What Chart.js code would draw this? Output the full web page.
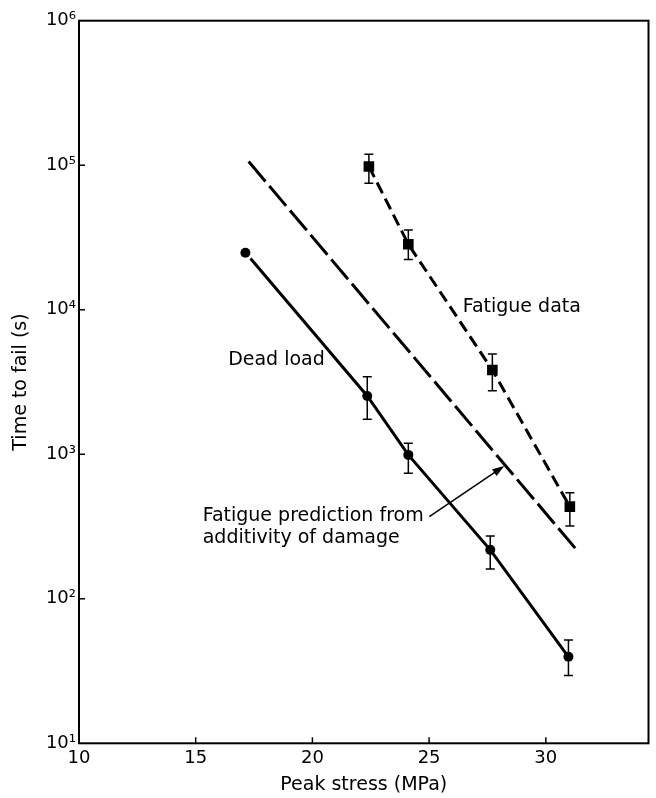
<!DOCTYPE html>
<html><head><meta charset="utf-8">
<script src="https://cdn.jsdelivr.net/npm/chart.js@4.4.1/dist/chart.umd.min.js"></script>
<style>html,body{margin:0;padding:0;background:#fff}#wrap{width:656px;height:798px;position:relative}</style>
</head><body><div id="wrap"><canvas id="c"></canvas></div>
<script>
// ---- data ----
const xTickValues = [10, 15, 20, 25, 30];
const yTickValues = [10, 100, 1000, 10000, 100000, 1000000];
const xMin = 10, xMax = 34.4, yMin = 10, yMax = 1e6;

const deadStress  = [17.13, 22.35, 24.11, 27.62, 30.97];
const deadTime    = [24800, 2530, 990, 218, 39.7];
const deadErrLow  = [null, 1750, 740, 161, 29.4];
const deadErrHigh = [null, 3440, 1190, 272, 51.9];

const fatigueStress  = [22.42, 24.11, 27.71, 31.03];
const fatigueTime    = [98000, 28400, 3830, 434];
const fatigueErrLow  = [75000, 22300, 2750, 319];
const fatigueErrHigh = [119000, 35600, 4940, 542];

const deadFitStress = [17.35, 22.35, 24.11, 27.62, 30.97];
const deadFitTime   = [22600, 2530, 990, 218, 39.7];

const predictionStress = [17.27, 31.29];
const predictionTime   = [106000, 221];

const arrowFrom = [25.01, 370];
const arrowTo   = [28.22, 830];

const noteTexts = ['Fatigue data', 'Dead load', 'Fatigue prediction from', 'additivity of damage'];
const noteX = [26.44, 16.39, 15.30, 15.30];
const noteY = [10500, 4460, 374, 264];

// ---- helpers ----
const FONT = "'DejaVu Sans', sans-serif";
const SUP = '⁰¹²³⁴⁵⁶⁷⁸⁹';
function pow10Label(v) {
  const n = Math.round(Math.log10(v));
  return '10' + String(n).split('').map(d => SUP[+d]).join('');
}
const pts = (xs, ys) => xs.map((x, i) => ({x, y: ys[i]}));

const decor = {
  id: 'decor',
  beforeDatasetsDraw(chart) {
    const {ctx, chartArea: a, scales: {x, y}} = chart;
    ctx.save();
    ctx.strokeStyle = '#000';
    ctx.lineWidth = 2;
    ctx.strokeRect(a.left, a.top, a.right - a.left, a.bottom - a.top);
    ctx.lineWidth = 1.5;
    xTickValues.forEach(v => {
      if (v === xMin) return;
      const px = x.getPixelForValue(v);
      ctx.beginPath(); ctx.moveTo(px, a.bottom); ctx.lineTo(px, a.bottom - 6); ctx.stroke();
    });
    yTickValues.forEach(v => {
      if (v === yMin || v === yMax) return;
      const py = y.getPixelForValue(v);
      ctx.beginPath(); ctx.moveTo(a.left, py); ctx.lineTo(a.left + 6, py); ctx.stroke();
    });
    // error bars
    const bars = (xs, lo, hi) => xs.forEach((xv, i) => {
      if (lo[i] == null) return;
      const px = x.getPixelForValue(xv);
      const p1 = y.getPixelForValue(lo[i]);
      const p2 = y.getPixelForValue(hi[i]);
      ctx.beginPath();
      ctx.moveTo(px, p1); ctx.lineTo(px, p2);
      ctx.moveTo(px - 4.5, p1); ctx.lineTo(px + 4.5, p1);
      ctx.moveTo(px - 4.5, p2); ctx.lineTo(px + 4.5, p2);
      ctx.stroke();
    });
    bars(deadStress, deadErrLow, deadErrHigh);
    bars(fatigueStress, fatigueErrLow, fatigueErrHigh);
    ctx.restore();
  },
  afterDatasetsDraw(chart) {
    const {ctx, scales: {x, y}} = chart;
    ctx.save();
    ctx.fillStyle = '#000';
    ctx.font = '19px ' + FONT;
    ctx.textAlign = 'left';
    ctx.textBaseline = 'middle';
    noteTexts.forEach((t, i) => ctx.fillText(t, x.getPixelForValue(noteX[i]), y.getPixelForValue(noteY[i])));
    // arrow
    const x1 = x.getPixelForValue(arrowFrom[0]), y1 = y.getPixelForValue(arrowFrom[1]);
    const x2 = x.getPixelForValue(arrowTo[0]), y2 = y.getPixelForValue(arrowTo[1]);
    const ang = Math.atan2(y2 - y1, x2 - x1);
    ctx.strokeStyle = '#000';
    ctx.lineWidth = 1.5;
    ctx.beginPath(); ctx.moveTo(x1, y1); ctx.lineTo(x2 - 8 * Math.cos(ang), y2 - 8 * Math.sin(ang)); ctx.stroke();
    ctx.beginPath();
    ctx.moveTo(x2, y2);
    ctx.lineTo(x2 - 12 * Math.cos(ang) + 4 * Math.sin(ang), y2 - 12 * Math.sin(ang) - 4 * Math.cos(ang));
    ctx.lineTo(x2 - 12 * Math.cos(ang) - 4 * Math.sin(ang), y2 - 12 * Math.sin(ang) + 4 * Math.cos(ang));
    ctx.closePath(); ctx.fill();
    ctx.restore();
  }
};

new Chart(document.getElementById('c'), {
  type: 'scatter',
  data: {
    datasets: [
      {label: 'Prediction', data: pts(predictionStress, predictionTime), showLine: true,
       borderColor: '#000', borderWidth: 3, borderDash: [26, 6], pointRadius: 0, fill: false},
      {label: 'Dead load fit', data: pts(deadFitStress, deadFitTime), showLine: true,
       borderColor: '#000', borderWidth: 3, pointRadius: 0, fill: false},
      {label: 'Fatigue fit', data: pts(fatigueStress, fatigueTime), showLine: true,
       borderColor: '#000', borderWidth: 3, borderDash: [12, 6], pointRadius: 0, fill: false},
      {label: 'Dead load', data: pts(deadStress, deadTime), showLine: false,
       pointStyle: 'circle', pointRadius: 5, backgroundColor: '#000', borderColor: '#000', borderWidth: 0},
      {label: 'Fatigue data', data: pts(fatigueStress, fatigueTime), showLine: false,
       pointStyle: 'rect', pointRadius: 7.5, backgroundColor: '#000', borderColor: '#000', borderWidth: 0}
    ]
  },
  options: {
    responsive: true, maintainAspectRatio: false, animation: false, devicePixelRatio: 1,
    layout: {padding: {left: 0, right: 6.7, top: 20.7, bottom: 0}},
    plugins: {legend: {display: false}, tooltip: {enabled: false}},
    scales: {
      x: {
        type: 'linear', min: xMin, max: xMax,
        afterBuildTicks: s => { s.ticks = xTickValues.map(v => ({value: v})); },
        afterFit: s => { s.height = 54.7; },
        grid: {display: false, drawTicks: false}, border: {display: false},
        ticks: {font: {family: FONT, size: 18}, color: '#000', padding: 4, maxRotation: 0, autoSkip: false},
        title: {display: true, text: 'Peak stress (MPa)', font: {family: FONT, size: 19}, color: '#000', padding: {top: 0, bottom: 2}}
      },
      y: {
        type: 'logarithmic', min: yMin, max: yMax,
        afterBuildTicks: s => { s.ticks = yTickValues.map(v => ({value: v})); },
        afterFit: s => { s.width = 79; },
        grid: {display: false, drawTicks: false}, border: {display: false},
        ticks: {font: {family: FONT, size: 18}, color: '#000', padding: 3, autoSkip: false, callback: v => pow10Label(v)},
        title: {display: true, text: 'Time to fail (s)', font: {family: FONT, size: 19}, color: '#000', padding: {top: 10, bottom: 0}}
      }
    }
  },
  plugins: [decor]
});
</script>
</body></html>
